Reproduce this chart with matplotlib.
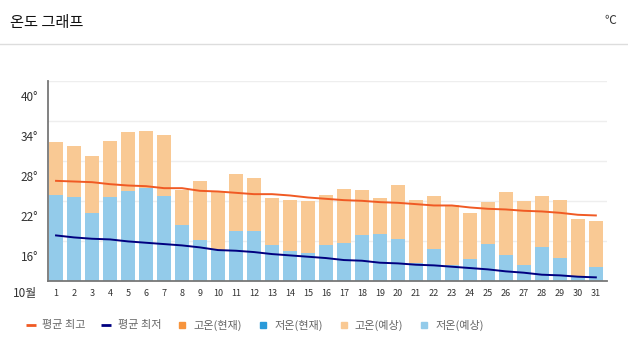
import numpy as np
import matplotlib.pyplot as plt
from matplotlib.lines import Line2D
from matplotlib.transforms import blended_transform_factory

plt.rcParams['font.family'] = ['Noto Sans CJK KR', 'DejaVu Sans']

# October days
days = list(range(1, 32))

# forecast highs / lows (bars)
high_fc = [30.8, 30.2, 28.7, 31.0, 32.3, 32.5, 31.9, 23.6, 25.0, 23.4,
           26.0, 25.4, 22.4, 22.1, 22.0, 22.9, 23.8, 23.6, 22.4, 24.4,
           22.1, 22.7, 21.3, 20.1, 21.8, 23.3, 22.0, 22.7, 22.1, 19.3, 19.0]
low_fc = [22.9, 22.6, 20.2, 22.6, 23.5, 23.9, 22.7, 18.4, 16.1, 14.6,
          17.5, 17.4, 15.4, 14.4, 14.2, 15.4, 15.7, 16.9, 17.0, 16.3,
          12.7, 14.8, 12.3, 13.3, 15.5, 13.9, 12.3, 15.1, 13.4, 10.6, 12.0]

# climatological averages (lines)
avg_high = [25.0, 24.9, 24.8, 24.5, 24.3, 24.2, 23.9, 23.9, 23.5, 23.4,
            23.2, 23.0, 23.0, 22.8, 22.5, 22.3, 22.1, 22.0, 21.8, 21.7,
            21.5, 21.3, 21.3, 21.0, 20.8, 20.7, 20.5, 20.4, 20.2, 19.9, 19.8]
avg_low = [16.8, 16.5, 16.3, 16.2, 15.9, 15.7, 15.5, 15.3, 15.0, 14.6,
           14.5, 14.3, 14.0, 13.8, 13.6, 13.4, 13.1, 13.0, 12.7, 12.6,
           12.4, 12.3, 12.1, 11.9, 11.7, 11.4, 11.2, 10.9, 10.8, 10.6, 10.5]

ytick_vals = [16, 22, 28, 34, 40]
legend_labels = ['평균 최고', '평균 최저', '고온(현재)', '저온(현재)', '고온(예상)', '저온(예상)']

c_high_fc = '#f9c994'
c_low_fc = '#93cbea'
c_high_now = '#f7943c'
c_low_now = '#2a9ad9'
c_avg_high = '#f05a24'
c_avg_low = '#000080'

fig = plt.figure(figsize=(6.28, 3.54), dpi=100)
ax = fig.add_axes([0.0769, 0.2071, 0.966 - 0.0769, 0.7712 - 0.2071])

ax.bar(days, high_fc, width=0.75, color=c_high_fc, zorder=2)
ax.bar(days, low_fc, width=0.75, color=c_low_fc, zorder=2)
ax.plot(days, avg_high, color=c_avg_high, lw=1.4, zorder=3)
ax.plot(days, avg_low, color=c_avg_low, lw=1.4, zorder=3)

ax.set_xlim(0.57, 31.6)
ax.set_ylim(10, 40)
ax.set_yticks(ytick_vals)
ax.set_yticklabels([])
ax.tick_params(axis='y', length=0)
ax.grid(axis='y', color='#eeeeee', lw=1, zorder=0)
ax.set_axisbelow(True)

ax.set_xticks(days)
ax.set_xticklabels([str(d) for d in days], fontsize=6.5, color='#333333')
ax.tick_params(axis='x', length=0, pad=6)

for s in ['top', 'right']:
    ax.spines[s].set_visible(False)
ax.spines['left'].set_color('#777777')
ax.spines['left'].set_linewidth(1.3)
ax.spines['bottom'].set_color('#777777')
ax.spines['bottom'].set_linewidth(1.3)
ax.spines['left'].set_bounds(10, 40)

# y labels sit just below their grid line
tr = blended_transform_factory(fig.transFigure, ax.transData)
for v in ytick_vals:
    ax.text(38 / 628, v - 2.5, f'{v}°', transform=tr, ha='right', va='center',
            fontsize=8.5, color='#333333')

fig.text(13 / 628, 1 - 293 / 354, '10월', ha='left', va='center', fontsize=8.5, color='#333333')

# header
fig.text(10 / 628, 1 - 22 / 354, '온도 그래프', ha='left', va='center', fontsize=11, color='#111111')
fig.text(610 / 628, 1 - 20 / 354, '℃', ha='center', va='center', fontsize=8.5, color='#333333')
fig.add_artist(Line2D([0, 1], [1 - 44 / 354] * 2, color='#dddddd', lw=1, transform=fig.transFigure))

handles = [
    Line2D([], [], color=c_avg_high, marker='_', ls='none', markersize=7, markeredgewidth=2),
    Line2D([], [], color=c_avg_low, marker='_', ls='none', markersize=7, markeredgewidth=2),
    Line2D([], [], color=c_high_now, marker='s', ls='none', markersize=5),
    Line2D([], [], color=c_low_now, marker='s', ls='none', markersize=5),
    Line2D([], [], color=c_high_fc, marker='s', ls='none', markersize=5),
    Line2D([], [], color=c_low_fc, marker='s', ls='none', markersize=5),
]
fig.legend(handles, legend_labels, loc='center left', bbox_to_anchor=(0.033, 1 - 325 / 354),
           ncol=6, frameon=False, fontsize=8, handlelength=0.8, handletextpad=0.6,
           columnspacing=1.5, labelcolor='#666666', borderpad=0)

fig.savefig('out.png', dpi=100)
